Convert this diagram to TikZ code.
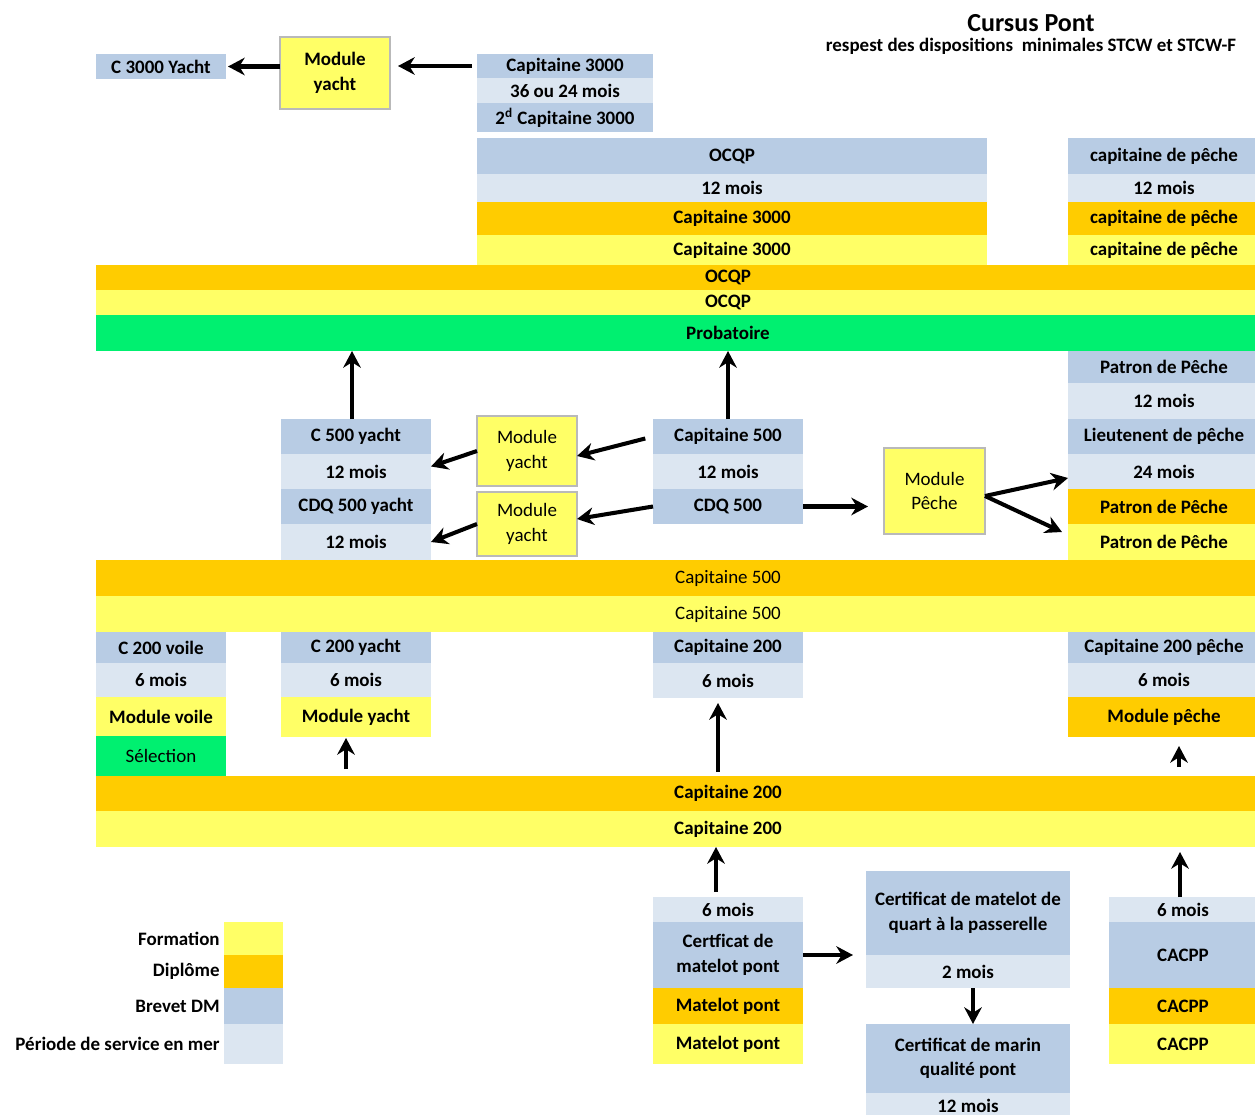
\documentclass[tikz,border=0pt]{standalone}
\usepackage{fontspec}
\setmainfont{Carlito}
\usepackage{tikz}
\usetikzlibrary{arrows.meta,positioning}
\definecolor{dmbrevet}{RGB}{184,204,228}
\definecolor{dmservice}{RGB}{220,230,241}
\definecolor{dmdiplome}{RGB}{255,204,0}
\definecolor{dmformation}{RGB}{255,255,102}
\definecolor{dmgreen}{RGB}{0,240,112}
\definecolor{dmgrey}{RGB}{185,185,185}
\tikzstyle{arrow} = [line width=2.3pt, -{Stealth[length=9.5pt,width=10pt]}]
\tikzstyle{cell} = [rectangle, inner sep=0pt, outer sep=0pt, align=center, font=\bfseries]
\tikzstyle{brevet} = [cell, fill=dmbrevet]
\tikzstyle{service} = [cell, fill=dmservice]
\tikzstyle{diplome} = [cell, fill=dmdiplome]
\tikzstyle{formation} = [cell, fill=dmformation]
\tikzstyle{selection} = [cell, fill=dmgreen]
\tikzstyle{module} = [cell, fill=dmformation, draw=dmgrey, line width=1.2pt]
\tikzstyle{nobold} = [font=\mdseries]
\tikzstyle{legendtext} = [inner sep=0pt, font=\bfseries]
\tikzset{wide/.style={minimum width=#1*0.02cm}, high/.style={minimum height=#1*0.02cm}}

\begin{document}
\fontsize{10.8}{14}\selectfont
\begin{tikzpicture}[x=0.02cm, y=-0.02cm]
\useasboundingbox (0,0) rectangle (1255,1115);
\clip (0,0) rectangle (1255,1115);

% title
\node (title) at (1031,23) [font=\bfseries\fontsize{14.8}{18}\selectfont] {Cursus Pont};
\node (subtitle) at (1031,46) [font=\bfseries] {respest des dispositions\ \ minimales STCW et STCW-F};

% capitaine 3000 and yacht
\node (c3y) at (161,66.5) [brevet, wide=130, high=25] {C 3000 Yacht};
\node (modyt) at (335,73) [module, wide=110, high=72] {Module\\yacht};
\node (cap3k) at (565,66) [brevet, wide=176, high=24] {Capitaine 3000};
\node (cap3kserv) at (565,90.5) [service, wide=176, high=25] {36 ou 24 mois};
\node (cap3kb) at (565,117.5) [brevet, wide=176, high=29] {2\textsuperscript{d} Capitaine 3000};

% OCQP
\node (ocqp) at (732,156) [brevet, wide=510, high=36] {OCQP};
\node (ocqpserv) at (732,188) [service, wide=510, high=28] {12 mois};
\node (ocqpdip) at (732,218.5) [diplome, wide=510, high=33] {Capitaine 3000};
\node (ocqpform) at (732,250) [formation, wide=510, high=30] {Capitaine 3000};

% capitaine de peche
\node (cdp) at (1164,156) [brevet, wide=192, high=36] {capitaine de pêche};
\node (cdpserv) at (1164,188) [service, wide=192, high=28] {12 mois};
\node (cdpdip) at (1164,218.5) [diplome, wide=192, high=33] {capitaine de pêche};
\node (cdpform) at (1164,250) [formation, wide=192, high=30] {capitaine de pêche};

% bands
\node (ocqpbdip) at (728,277.5) [diplome, wide=1264, high=25] {OCQP};
\node (ocqpbform) at (728,302.5) [formation, wide=1264, high=25] {OCQP};
\node (prob) at (728,333) [selection, wide=1264, high=36] {Probatoire};

% capitaine 500 level
\node (c5y) at (356,436.5) [brevet, wide=150, high=35] {C 500 yacht};
\node (c5yserv) at (356,471.5) [service, wide=150, high=35] {12 mois};
\node (cdq5y) at (356,506.5) [brevet, wide=150, high=35] {CDQ 500 yacht};
\node (cdq5yserv) at (356,542) [service, wide=150, high=36] {12 mois};
\node (modya) at (527,451) [module, nobold, wide=100, high=70] {Module\\yacht};
\node (modyb) at (527,524) [module, nobold, wide=100, high=64] {Module\\yacht};
\node (cap5) at (728,436.5) [brevet, wide=150, high=35] {Capitaine 500};
\node (cap5serv) at (728,471.5) [service, wide=150, high=35] {12 mois};
\node (cdq5) at (728,506.5) [brevet, wide=150, high=35] {CDQ 500};
\node (modp) at (934.5,491) [module, nobold, wide=101, high=86] {Module\\Pêche};
\node (pdp) at (1164,367) [brevet, wide=192, high=32] {Patron de Pêche};
\node (pdpserv) at (1164,401) [service, wide=192, high=36] {12 mois};
\node (ldp) at (1164,436.5) [brevet, wide=192, high=35] {Lieutenent de pêche};
\node (ldpserv) at (1164,471.5) [service, wide=192, high=35] {24 mois};
\node (pdpdip) at (1164,506.5) [diplome, wide=192, high=35] {Patron de Pêche};
\node (pdpform) at (1164,542) [formation, wide=192, high=36] {Patron de Pêche};

\node (cap5bdip) at (728,578) [diplome, nobold, wide=1264, high=36] {Capitaine 500};
\node (cap5bform) at (728,614) [formation, nobold, wide=1264, high=36] {Capitaine 500};

% capitaine 200 level
\node (c2v) at (161,647.5) [brevet, wide=130, high=31] {C 200 voile};
\node (c2vserv) at (161,680) [service, wide=130, high=34] {6 mois};
\node (c2vmod) at (161,716.5) [formation, wide=130, high=39] {Module voile};
\node (c2vsel) at (161,756) [selection, nobold, wide=130, high=40] {Sélection};
\node (c2y) at (356,647.5) [brevet, wide=150, high=31] {C 200 yacht};
\node (c2yserv) at (356,680) [service, wide=150, high=34] {6 mois};
\node (c2ymod) at (356,717) [formation, wide=150, high=40] {Module yacht};
\node (cap2) at (728,647.5) [brevet, wide=150, high=31] {Capitaine 200};
\node (cap2serv) at (728,680.5) [service, wide=150, high=35] {6 mois};
\node (c2p) at (1164,647.5) [brevet, wide=192, high=31] {Capitaine 200 pêche};
\node (c2pserv) at (1164,680) [service, wide=192, high=34] {6 mois};
\node (c2pmod) at (1164,717) [diplome, wide=192, high=40] {Module pêche};

\node (cap2bdip) at (728,793.5) [diplome, wide=1264, high=35] {Capitaine 200};
\node (cap2bform) at (728,829) [formation, wide=1264, high=36] {Capitaine 200};

% matelot
\node (matserv) at (728,909.5) [service, wide=150, high=25] {6 mois};
\node (matcert) at (728,955) [brevet, wide=150, high=66] {Certficat de\\matelot pont};
\node (matdip) at (728,1006) [diplome, wide=150, high=36] {Matelot pont};
\node (matform) at (728,1044) [formation, wide=150, high=40] {Matelot pont};
\node (quart) at (968,913) [brevet, wide=204, high=84] {Certificat de matelot de\\quart à la passerelle};
\node (quartserv) at (968,971.5) [service, wide=204, high=33] {2 mois};
\node (marin) at (968,1058.5) [brevet, wide=204, high=69] {Certificat de marin\\qualité pont};
\node (marinserv) at (968,1106) [service, wide=204, high=26] {12 mois};
\node (cacppserv) at (1183,909.5) [service, wide=148, high=25] {6 mois};
\node (cacpp) at (1183,955) [brevet, wide=148, high=66] {CACPP};
\node (cacppdip) at (1183,1006) [diplome, wide=148, high=36] {CACPP};
\node (cacppform) at (1183,1044) [formation, wide=148, high=40] {CACPP};

% legend
\node (legform) at (253.5,938.5) [formation, wide=59, high=33] {};
\node (legdip) at (253.5,971.5) [diplome, wide=59, high=33] {};
\node (legbrev) at (253.5,1006) [brevet, wide=59, high=36] {};
\node (legserv) at (253.5,1044) [service, wide=59, high=40] {};
\node (lform) [legendtext, left=0.08cm of legform] {Formation};
\node (ldip) [legendtext, left=0.08cm of legdip] {Diplôme};
\node (lbrev) [legendtext, left=0.08cm of legbrev] {Brevet DM};
\node (lserv) [legendtext, left=0.08cm of legserv] {Période de service en mer};

% arrows
\draw[arrow, shorten <=0.1cm, shorten >=0.16cm] (cap3k.west) -- (cap3k.west -| modyt.east);
\draw[arrow, shorten >=0.04cm] (modyt.west |- c3y.east) -- (c3y.east);
\draw[arrow] ([xshift=-0.08cm]c5y.north) -- ([xshift=-0.08cm]c5y.north |- prob.south);
\draw[arrow] (cap5.north) -- (cap5.north |- prob.south);
\draw[arrow, shorten <=0.16cm] (cap5.west) -- ([yshift=-0.1cm]modya.east);
\draw[arrow] (modya.west) -- ([yshift=0.1cm]c5yserv.east);
\draw[arrow] (cdq5.west) -- ([yshift=0.1cm]modyb.east);
\draw[arrow] (modyb.west) -- (cdq5yserv.east);
\draw[arrow, shorten >=0.32cm] (cdq5.east) -- (cdq5.east -| modp.west);
\draw[arrow] ([yshift=-0.1cm]modp.east) -- ([yshift=-0.13cm]ldpserv.west);
\draw[arrow] ([yshift=-0.1cm]modp.east) -- ([xshift=-0.12cm,yshift=0.2cm]pdpform.west);
\draw[arrow, shorten <=0.14cm, shorten >=0.02cm] ([xshift=-0.2cm]c2ymod.south |- cap2bdip.north) -- ([xshift=-0.2cm]c2ymod.south);
\draw[arrow, shorten <=0.08cm, shorten >=0.1cm] ([xshift=-0.2cm]cap2serv.south |- cap2bdip.north) -- ([xshift=-0.2cm]cap2serv.south);
\draw[arrow, shorten <=0.18cm, shorten >=0.18cm] ([xshift=0.3cm]c2pmod.south |- cap2bdip.north) -- ([xshift=0.3cm]c2pmod.south);
\draw[arrow, shorten <=0.1cm] ([xshift=-0.24cm]matserv.north) -- ([xshift=-0.24cm]matserv.north |- cap2bform.south);
\draw[arrow, shorten >=0.26cm] (matcert.east) -- (matcert.east -| quart.west);
\draw[arrow] ([xshift=0.1cm]quartserv.south) -- ([xshift=0.1cm]quartserv.south |- marin.north);
\draw[arrow, shorten >=0.1cm] ([xshift=-0.06cm]cacppserv.north) -- ([xshift=-0.06cm]cacppserv.north |- cap2bform.south);
\end{tikzpicture}
\end{document}
